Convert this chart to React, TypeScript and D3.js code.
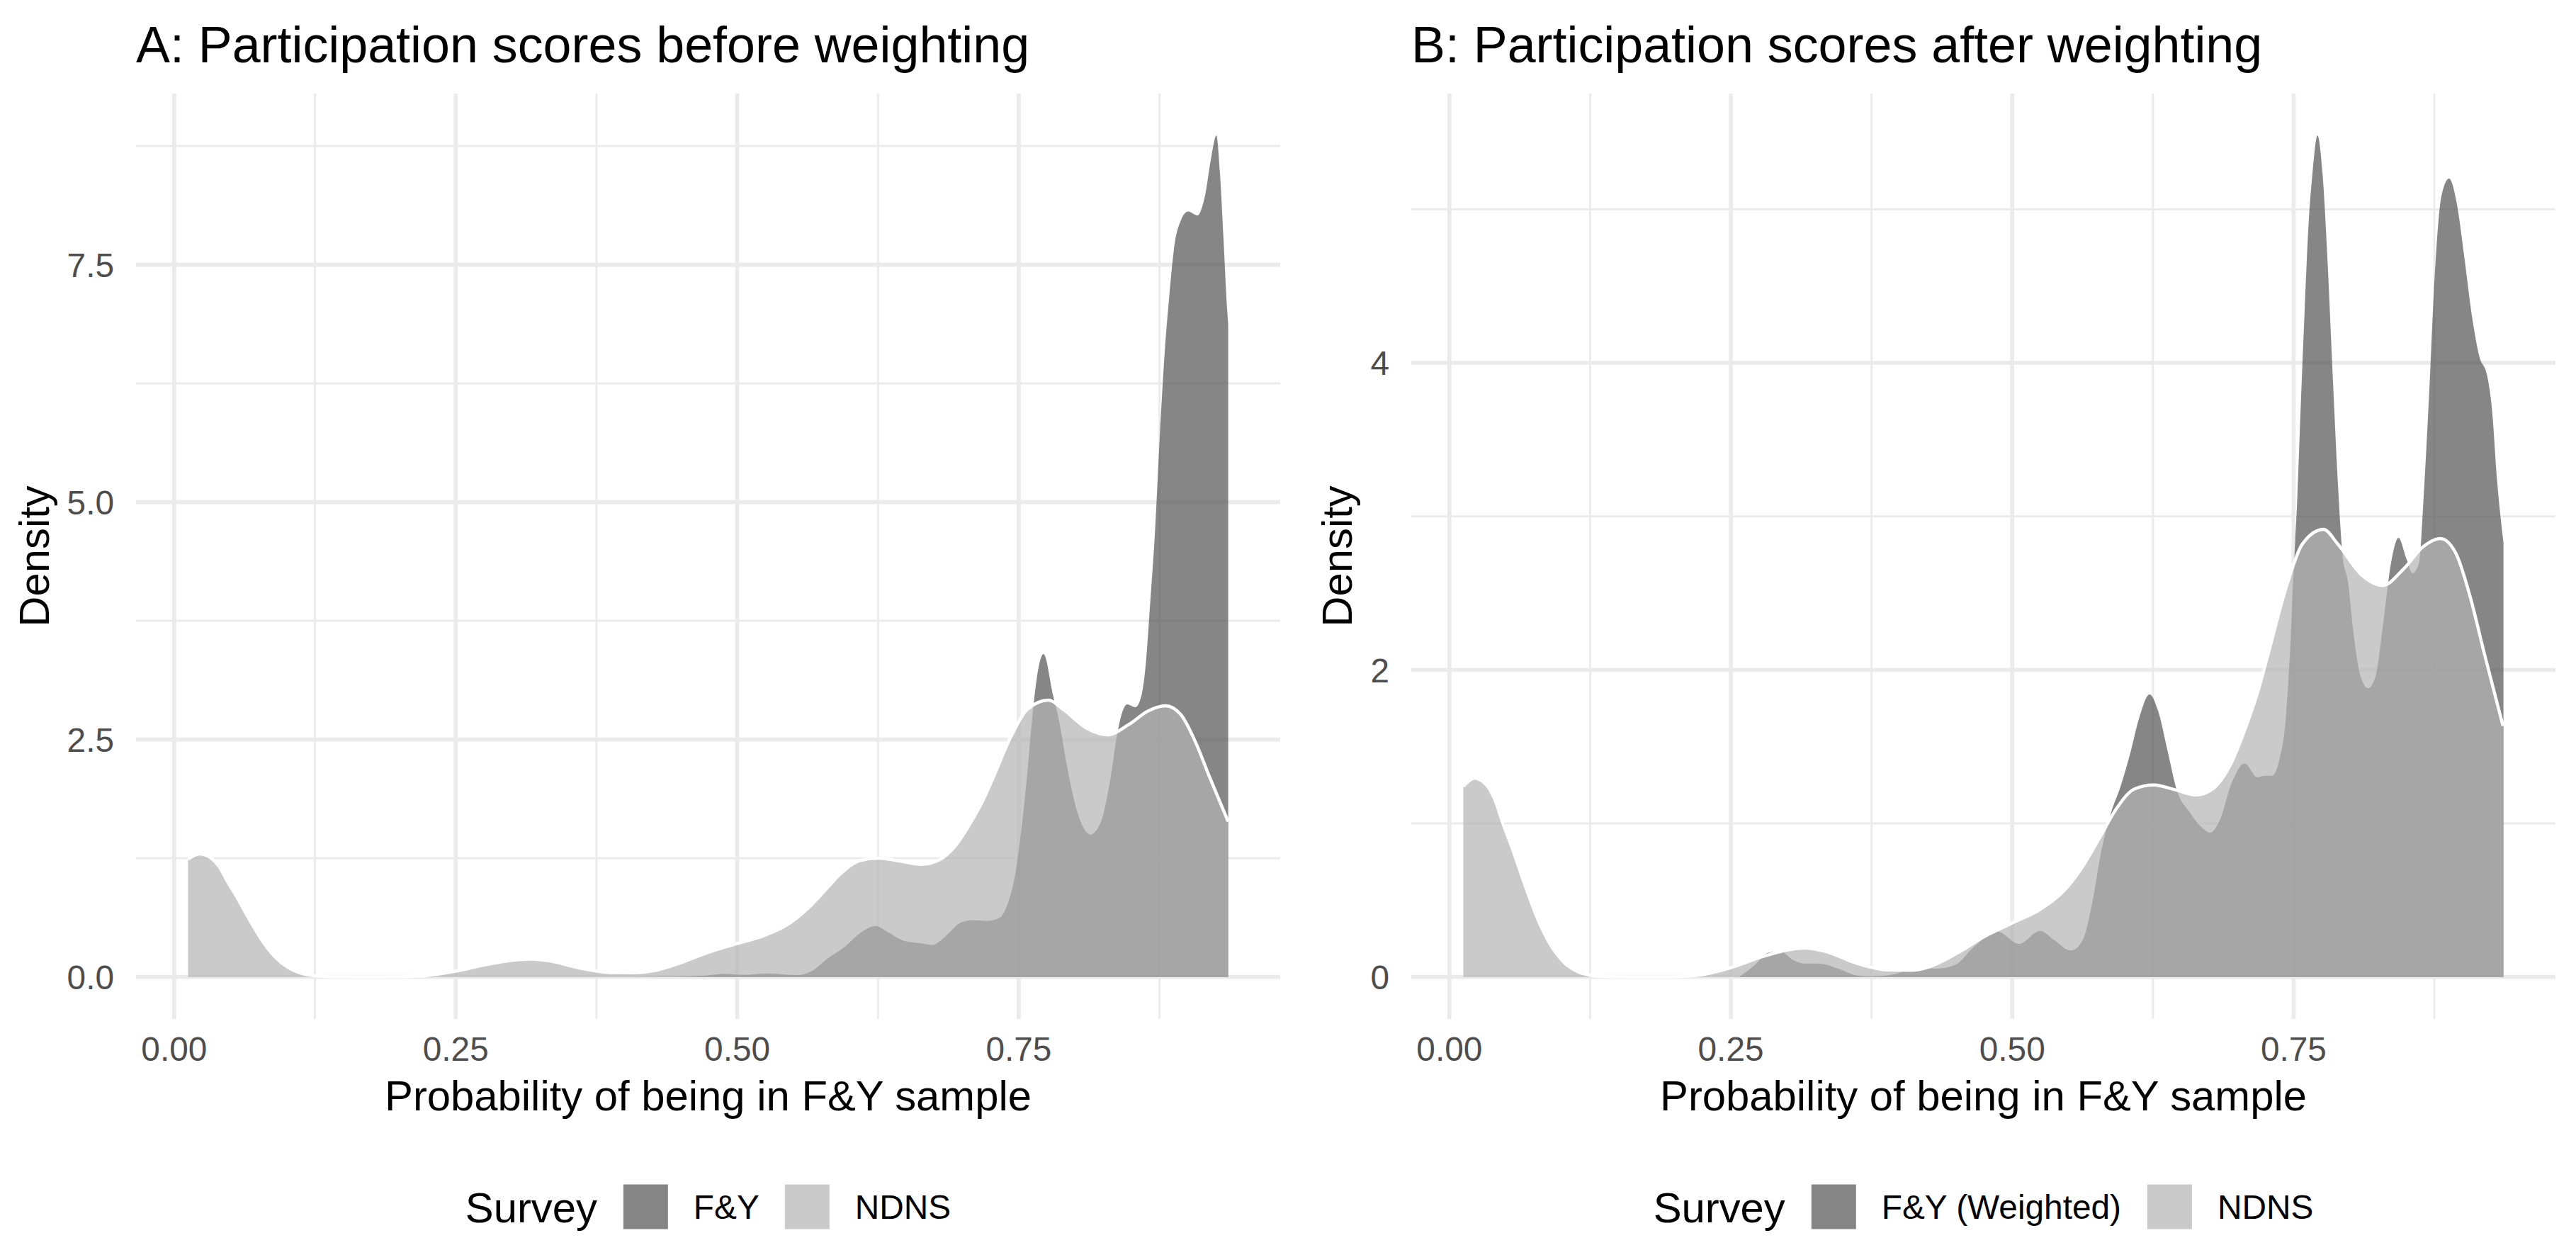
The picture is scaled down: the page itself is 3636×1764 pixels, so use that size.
import React from 'react';
import * as d3 from 'd3';

// ---------------- data ----------------
const probTicks = [0, 0.25, 0.5, 0.75];
const probTickLabels = ['0.00', '0.25', '0.50', '0.75'];

const densityTicksA = [0, 2.5, 5, 7.5];
const densityTickLabelsA = ['0.0', '2.5', '5.0', '7.5'];
const densityTicksB = [0, 2, 4];
const densityTickLabelsB = ['0', '2', '4'];

// F&Y (unweighted) density
const fyX = [0.40, 0.449, 0.47, 0.488, 0.505, 0.527, 0.553, 0.5667, 0.581, 0.5948, 0.609, 0.6228, 0.634, 0.6481, 0.6622, 0.6734, 0.6847, 0.6987, 0.7099, 0.7221, 0.7326, 0.741, 0.7473, 0.7535, 0.7577, 0.7619, 0.7661, 0.772, 0.7806, 0.7854, 0.7938, 0.8022, 0.8137, 0.8232, 0.8316, 0.8379, 0.8463, 0.8536, 0.8589, 0.8631, 0.8668, 0.871, 0.8752, 0.8794, 0.8836, 0.8878, 0.8941, 0.9004, 0.9088, 0.9151, 0.9214, 0.9255, 0.9286, 0.9318, 0.935, 0.936];
const fyDensity = [0, 0.002, 0.012, 0.032, 0.022, 0.037, 0.02, 0.065, 0.20, 0.31, 0.46, 0.536, 0.47, 0.38, 0.355, 0.337, 0.424, 0.573, 0.598, 0.59, 0.62, 0.80, 1.11, 1.67, 2.16, 2.72, 3.15, 3.40, 2.96, 2.72, 2.16, 1.73, 1.50, 1.64, 2.10, 2.59, 2.87, 2.84, 2.96, 3.33, 3.95, 4.69, 5.68, 6.54, 7.16, 7.66, 7.97, 8.06, 8.02, 8.21, 8.66, 8.86, 8.48, 7.78, 7.04, 6.87];

// F&Y (weighted) density
const fyWX = [0.2575, 0.2715, 0.2828, 0.294, 0.3053, 0.3165, 0.3278, 0.3446, 0.3614, 0.3727, 0.3895, 0.4064, 0.42, 0.4325, 0.4493, 0.466, 0.4871, 0.5059, 0.5248, 0.5374, 0.5521, 0.5626, 0.571, 0.5794, 0.5878, 0.5962, 0.6046, 0.6129, 0.622, 0.6297, 0.6381, 0.6465, 0.657, 0.6675, 0.6759, 0.6843, 0.6948, 0.7064, 0.7179, 0.7241, 0.7308, 0.7375, 0.7431, 0.7465, 0.7498, 0.7532, 0.7566, 0.76, 0.7634, 0.7667, 0.7712, 0.7757, 0.7802, 0.7847, 0.7892, 0.7937, 0.7982, 0.8027, 0.8094, 0.8162, 0.8229, 0.8297, 0.8364, 0.8432, 0.8499, 0.8556, 0.8612, 0.8657, 0.8702, 0.8746, 0.8791, 0.8836, 0.8881, 0.8949, 0.9016, 0.9083, 0.915, 0.9218, 0.9263, 0.9308, 0.9364];
const fyWDensity = [0, 0.079, 0.156, 0.168, 0.11, 0.087, 0.087, 0.056, 0.01, 0.002, 0.01, 0.04, 0.055, 0.054, 0.078, 0.196, 0.295, 0.215, 0.30, 0.24, 0.172, 0.24, 0.48, 0.83, 1.07, 1.24, 1.45, 1.69, 1.84, 1.73, 1.47, 1.21, 1.08, 0.98, 0.94, 1.02, 1.26, 1.39, 1.30, 1.31, 1.31, 1.42, 1.69, 2.08, 2.61, 3.11, 3.77, 4.38, 4.92, 5.23, 5.48, 5.23, 4.65, 3.92, 3.23, 2.73, 2.58, 2.27, 1.96, 1.88, 1.96, 2.31, 2.69, 2.86, 2.73, 2.63, 2.69, 3.15, 3.77, 4.46, 4.96, 5.15, 5.20, 5.04, 4.69, 4.31, 4.04, 3.92, 3.69, 3.23, 2.83];

// NDNS density (same in both panels)
const ndnsX = [0.0123, 0.018, 0.0225, 0.027, 0.033, 0.040, 0.048, 0.0552, 0.0665, 0.0777, 0.0889, 0.101, 0.1137, 0.126, 0.14, 0.17, 0.20, 0.222, 0.2491, 0.2772, 0.2997, 0.3165, 0.3334, 0.3614, 0.3895, 0.41, 0.426, 0.4535, 0.4745, 0.4997, 0.5248, 0.5458, 0.5626, 0.5794, 0.592, 0.6088, 0.6256, 0.6444, 0.6633, 0.679, 0.693, 0.7071, 0.7183, 0.7262, 0.7443, 0.7578, 0.7766, 0.7892, 0.8102, 0.8291, 0.848, 0.8647, 0.8804, 0.8941, 0.9067, 0.9193, 0.936];
const ndnsDensity = [1.24, 1.28, 1.295, 1.285, 1.25, 1.16, 0.99, 0.85, 0.61, 0.39, 0.22, 0.10, 0.035, 0.01, 0.002, 0, 0.001, 0.012, 0.058, 0.13, 0.175, 0.188, 0.168, 0.09, 0.045, 0.043, 0.065, 0.165, 0.26, 0.35, 0.44, 0.56, 0.72, 0.93, 1.09, 1.225, 1.25, 1.22, 1.185, 1.23, 1.37, 1.62, 1.86, 2.07, 2.56, 2.82, 2.915, 2.82, 2.62, 2.55, 2.66, 2.80, 2.855, 2.76, 2.48, 2.11, 1.635];

const titleA = 'A: Participation scores before weighting';
const titleB = 'B: Participation scores after weighting';
const xTitle = 'Probability of being in F&Y sample';
const yTitle = 'Density';
const legendTitle = 'Survey';
const seriesA = ['F&Y', 'NDNS'];
const seriesB = ['F&Y (Weighted)', 'NDNS'];

// ---------------- style ----------------
const W = 3636;
const H = 1764;
const FONT = "'Liberation Sans', Arial, Helvetica, sans-serif";
const BASE = 59.8;
const TITLE_SIZE = 71.8;
const TICK_SIZE = 47.8;
const DARK_FILL = '#525252';
const LIGHT_FILL = '#B3B3B3';
const FILL_ALPHA = 0.7;
const GRID = '#EBEBEB';
const MAJOR_W = 5.66;
const MINOR_W = 2.83;

let measureCtx: CanvasRenderingContext2D | null = null;
function textWidth(s: string, size: number): number {
  if (!measureCtx) {
    const c = document.createElement('canvas');
    measureCtx = c.getContext('2d');
  }
  if (!measureCtx) return s.length * size * 0.55;
  measureCtx.font = `${size}px ${FONT}`;
  return measureCtx.measureText(s).width;
}

type Series = { x: number[]; y: number[] };

function minors(ticks: number[], lo: number, hi: number): number[] {
  const step = ticks[1] - ticks[0];
  const ext = [ticks[0] - step, ...ticks, ticks[ticks.length - 1] + step];
  const out: number[] = [];
  for (let i = 0; i < ext.length - 1; i++) {
    const m = (ext[i] + ext[i + 1]) / 2;
    if (m >= lo && m <= hi) out.push(m);
  }
  return out;
}

function Panel(props: {
  left: number; right: number; top: number; bottom: number;
  title: string; dark: Series; light: Series;
  yTicks: number[]; yTickLabels: string[]; labels: string[];
}) {
  const { left, right, top, bottom, title, dark, light, yTicks, yTickLabels, labels } = props;
  const allX = [...dark.x, ...light.x];
  const xmin = d3.min(allX) as number;
  const xmax = d3.max(allX) as number;
  const xpad = (xmax - xmin) * 0.05;
  const x = d3.scaleLinear().domain([xmin - xpad, xmax + xpad]).range([left, right]);
  const ymax = d3.max([...dark.y, ...light.y]) as number;
  const y = d3.scaleLinear().domain([-0.05 * ymax, 1.05 * ymax]).range([bottom, top]);

  const [x0, x1] = x.domain();
  const [y0, y1] = y.domain();
  const xMinor = minors(probTicks, x0, x1);
  const yMinor = minors(yTicks, y0, y1);

  const mkArea = (s: Series) =>
    d3.area<number>()
      .x((_, i) => x(s.x[i]))
      .y0(y(0))
      .y1((d) => y(d))
      .curve(d3.curveMonotoneX)(s.y) || '';
  const mkLine = (s: Series) =>
    d3.line<number>()
      .x((_, i) => x(s.x[i]))
      .y((d) => y(d))
      .curve(d3.curveMonotoneX)(s.y) || '';

  const cx = (left + right) / 2;
  const cy = (top + bottom) / 2;

  const tickGap = 31;
  const maxLabelW = d3.max(yTickLabels, (s) => textWidth(s, TICK_SIZE)) as number;
  const yTitleX = left - tickGap - maxLabelW - 26;

  // legend layout
  const key = 63;
  const legendCy = 1703;
  const wTitle = textWidth(legendTitle, BASE);
  const wL1 = textWidth(labels[0], TICK_SIZE);
  const wL2 = textWidth(labels[1], TICK_SIZE);
  const gT = 37, gK = 36, gL = 36;
  const total = wTitle + gT + key + gK + wL1 + gL + key + gK + wL2;
  const lx0 = cx - total / 2;
  const k1 = lx0 + wTitle + gT;
  const l1 = k1 + key + gK;
  const k2 = l1 + wL1 + gL;
  const l2 = k2 + key + gK;

  return (
    <g>
      <text x={left} y={88} fontSize={TITLE_SIZE} fontFamily={FONT} fill="#000">{title}</text>
      {xMinor.map((v) => (
        <line key={'xm' + v} x1={x(v)} x2={x(v)} y1={top} y2={bottom} stroke={GRID} strokeWidth={MINOR_W} />
      ))}
      {yMinor.map((v) => (
        <line key={'ym' + v} x1={left} x2={right} y1={y(v)} y2={y(v)} stroke={GRID} strokeWidth={MINOR_W} />
      ))}
      {probTicks.map((v) => (
        <line key={'xM' + v} x1={x(v)} x2={x(v)} y1={top} y2={bottom} stroke={GRID} strokeWidth={MAJOR_W} />
      ))}
      {yTicks.map((v) => (
        <line key={'yM' + v} x1={left} x2={right} y1={y(v)} y2={y(v)} stroke={GRID} strokeWidth={MAJOR_W} />
      ))}
      <path d={mkArea(dark)} fill={DARK_FILL} fillOpacity={FILL_ALPHA} />
      <path d={mkArea(light)} fill={LIGHT_FILL} fillOpacity={FILL_ALPHA} />
      <path d={mkLine(light)} fill="none" stroke="#FFFFFF" strokeWidth={4.45} strokeLinejoin="round" />
      {probTicks.map((v, i) => (
        <text key={'xt' + v} x={x(v)} y={1497} textAnchor="middle" fontSize={TICK_SIZE} fontFamily={FONT} fill="#4D4D4D">
          {probTickLabels[i]}
        </text>
      ))}
      <text x={cx} y={1567} textAnchor="middle" fontSize={BASE} fontFamily={FONT} fill="#000">{xTitle}</text>
      {yTicks.map((v, i) => (
        <text key={'yt' + v} x={left - tickGap} y={y(v) + TICK_SIZE * 0.36} textAnchor="end" fontSize={TICK_SIZE} fontFamily={FONT} fill="#4D4D4D">
          {yTickLabels[i]}
        </text>
      ))}
      <text transform={`translate(${yTitleX},${cy}) rotate(-90)`} textAnchor="middle" fontSize={BASE} fontFamily={FONT} fill="#000">
        {yTitle}
      </text>
      <text x={lx0} y={legendCy + BASE * 0.36} fontSize={BASE} fontFamily={FONT} fill="#000">{legendTitle}</text>
      <rect x={k1} y={legendCy - key / 2} width={key} height={key} fill={DARK_FILL} fillOpacity={FILL_ALPHA} />
      <text x={l1} y={legendCy + TICK_SIZE * 0.36} fontSize={TICK_SIZE} fontFamily={FONT} fill="#000">{labels[0]}</text>
      <rect x={k2} y={legendCy - key / 2} width={key} height={key} fill={LIGHT_FILL} fillOpacity={FILL_ALPHA} />
      <text x={l2} y={legendCy + TICK_SIZE * 0.36} fontSize={TICK_SIZE} fontFamily={FONT} fill="#000">{labels[1]}</text>
    </g>
  );
}

export default function App() {
  const fy: Series = { x: fyX, y: fyDensity };
  const fyW: Series = { x: fyWX, y: fyWDensity };
  const ndns: Series = { x: ndnsX, y: ndnsDensity };
  return (
    <svg
      width={W}
      height={H}
      viewBox={`0 0 ${W} ${H}`}
      style={{ position: 'absolute', left: 0, top: 0, background: '#FFFFFF', display: 'block' }}
    >
      <rect x={0} y={0} width={W} height={H} fill="#FFFFFF" />
      <Panel left={192} right={1807} top={132} bottom={1438} title={titleA} dark={fy} light={ndns}
        yTicks={densityTicksA} yTickLabels={densityTickLabelsA} labels={seriesA} />
      <Panel left={1992} right={3607} top={132} bottom={1438} title={titleB} dark={fyW} light={ndns}
        yTicks={densityTicksB} yTickLabels={densityTickLabelsB} labels={seriesB} />
    </svg>
  );
}
